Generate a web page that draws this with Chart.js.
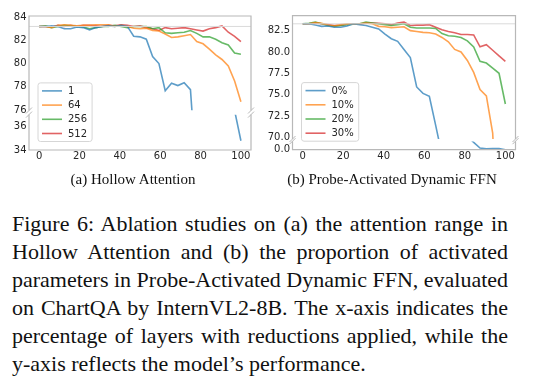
<!DOCTYPE html>
<html>
<head>
<meta charset="utf-8">
<script src="https://cdn.jsdelivr.net/npm/chart.js@4.4.0/dist/chart.umd.min.js"></script>
<style>
  html, body { margin: 0; padding: 0; background: #fff; }
  #page { position: relative; width: 535px; height: 388px; overflow: hidden; background: #fff; }
  canvas { position: absolute; top: 0; }
  .sub { position: absolute; top: 170px; width: 220px; text-align: center; white-space: nowrap;
         font-family: "Liberation Serif", serif; font-size: 15px; line-height: 18px; color: #111; }
  .cap { position: absolute; left: 12px; top: 210px; width: 496px; color: #111;
         font-family: "Liberation Serif", serif; font-size: 22px; }
  .cap div { height: 28px; line-height: 28px; white-space: nowrap; text-align: justify; text-align-last: justify; }
  .cap div.last { text-align-last: left; }
</style>
</head>
<body>
<div id="page">
  <canvas id="chartA" width="267" height="172" style="left:0"></canvas>
  <canvas id="chartB" width="268" height="172" style="left:267px"></canvas>
  <div class="sub" style="left:23px">(a) Hollow Attention</div>
  <div class="sub" style="left:282px">(b) Probe-Activated Dynamic FFN</div>
  <div class="cap">
    <div>Figure 6: Ablation studies on (a) the attention range in</div>
    <div>Hollow Attention and (b) the proportion of activated</div>
    <div>parameters in Probe-Activated Dynamic FFN, evaluated</div>
    <div>on ChartQA by InternVL2-8B. The x-axis indicates the</div>
    <div>percentage of layers with reductions applied, while the</div>
    <div class="last">y-axis reflects the model’s performance.</div>
  </div>
</div>
<script>
// Percentage of layers with reductions applied (32 layers)
var layers = [0, 3.125, 6.25, 9.375, 12.5, 15.625, 18.75, 21.875, 25, 28.125, 31.25, 34.375, 37.5, 40.625, 43.75, 46.875,
              50, 53.125, 56.25, 59.375, 62.5, 65.625, 68.75, 71.875, 75, 78.125, 81.25, 84.375, 87.5, 90.625, 93.75, 96.875, 100];
var xTicks = [0, 20, 40, 60, 80, 100];
var xMin = -5;
var xMax = 105;

// (a) Hollow Attention, attention range
var hollowLabels = ['1', '64', '256', '512'];
var hollow1 = [83.2, 83.2, 83.25, 83.2, 83.0, 83.0, 83.15, 83.1, 82.9, 83.1, 83.2, 83.25, 83.2, 83.3, 83.2, 82.35,
               82.3, 82.1, 80.6, 80.0, 77.65, 78.3, 78.1, 78.35, 77.75, 70, 62, 55, 48, 43, 40, 37.4, 34.8];
var hollow64 = [83.2, 83.2, 83.1, 83.3, 83.35, 83.3, 83.25, 83.3, 83.3, 83.35, 83.35, 83.35, 83.2, 83.3, 83.2, 83.05,
                83.0, 83.05, 82.85, 82.8, 82.55, 82.25, 82.3, 82.4, 82.5, 81.9, 81.7, 81.25, 80.75, 80.35, 79.8, 78.5, 76.7];
var hollow256 = [83.2, 83.25, 83.1, 83.2, 83.3, 83.25, 83.2, 83.15, 83.0, 83.1, 83.2, 83.2, 83.3, 83.2, 83.1, 83.2,
                 83.2, 83.2, 83.0, 83.1, 82.65, 82.6, 82.65, 82.7, 82.85, 82.6, 82.3, 82.3, 82.1, 81.8, 81.6, 80.9, 80.8];
var hollow512 = [83.2, 83.2, 83.15, 83.3, 83.2, 83.3, 83.2, 83.3, 83.3, 83.25, 83.2, 83.3, 83.25, 83.35, 83.3, 83.2,
                 83.25, 83.1, 83.0, 82.85, 83.1, 83.0, 83.05, 83.1, 83.0, 82.9, 82.8, 83.0, 83.1, 83.25, 82.7, 82.35, 81.9];
var hollowBase = 83.2;
var hollowTopTicks = [76, 78, 80, 82, 84];
var hollowBotTicks = [34, 36];

// (b) Probe-Activated Dynamic FFN, proportion of activated parameters
var ffnLabels = ['0%', '10%', '20%', '30%'];
var ffn0 = [83.3, 83.3, 83.15, 83.0, 83.05, 82.9, 82.9, 83.05, 83.3, 83.2, 83.1, 82.9, 82.7, 82.1, 81.55, 81.25,
            80.3, 79.35, 75.9, 75.15, 74.8, 71.4, 67.9, 55, 40, 20, 1.6, 0.85, 0.2, 0.1, 0.15, 0.15, 0.0];
var ffn10 = [83.3, 83.3, 83.45, 83.35, 83.15, 83.05, 83.2, 83.3, 83.25, 83.3, 83.4, 83.3, 83.0, 82.95, 82.85, 82.9,
             82.95, 82.5, 82.4, 82.3, 82.25, 82.1, 81.7, 81.2, 80.3, 80.0, 79.0, 77.6, 75.6, 74.85, 70.5, 55, 40];
var ffn20 = [83.3, 83.35, 83.5, 83.3, 83.1, 83.0, 83.1, 83.2, 83.25, 83.3, 83.5, 83.4, 83.3, 83.2, 83.1, 83.2,
             83.3, 82.9, 82.8, 82.8, 82.8, 82.75, 82.15, 81.9, 81.85, 81.7, 81.3, 80.6, 78.9, 78.7, 78.1, 77.5, 73.9];
var ffn30 = [83.3, 83.3, 83.4, 83.3, 83.2, 83.1, 83.15, 83.25, 83.3, 83.25, 83.4, 83.4, 83.35, 83.3, 83.2, 83.4,
             83.5, 83.1, 83.15, 83.15, 83.2, 82.9, 82.6, 82.4, 82.25, 82.05, 82.05, 82.0, 80.6, 80.85, 80.2, 79.55, 78.9];
var ffnBase = 83.3;
var ffnTopTicks = [70, 72.5, 75, 77.5, 80, 82.5];
var ffnBotTicks = [0];

var lineColors = ['rgba(31,119,180,0.72)', 'rgba(255,127,14,0.72)', 'rgba(44,160,44,0.72)', 'rgba(214,39,40,0.72)'];
var tickColor = '#262626';
var spineColor = '#b8b8b8';
var tickFont = { family: 'DejaVu Sans', size: 10 };

// Clip every line to the panel of its own y axis (broken axis)
var panelClip = {
    id: 'panelClip',
    beforeDatasetDraw: function (chart, args) {
        var ys = args.meta.yScale, a = chart.chartArea, ctx = chart.ctx;
        ctx.save();
        ctx.beginPath();
        ctx.rect(a.left, ys.top, a.right - a.left, ys.bottom - ys.top);
        ctx.clip();
    },
    afterDatasetDraw: function (chart) {
        chart.ctx.restore();
    }
};

// Grey frame around both panels plus the // break marks
var panelFrame = {
    id: 'panelFrame',
    afterDatasetsDraw: function (chart) {
        var ctx = chart.ctx, a = chart.chartArea;
        var t = chart.scales.yTop, b = chart.scales.yBot;
        ctx.save();
        ctx.strokeStyle = spineColor;
        ctx.lineWidth = 1.2;
        ctx.beginPath();
        ctx.moveTo(a.left, t.bottom); ctx.lineTo(a.left, t.top); ctx.lineTo(a.right, t.top); ctx.lineTo(a.right, t.bottom);
        ctx.moveTo(a.left, b.top); ctx.lineTo(a.left, b.bottom); ctx.lineTo(a.right, b.bottom); ctx.lineTo(a.right, b.top);
        ctx.stroke();
        ctx.lineWidth = 1;
        ctx.beginPath();
        [a.left, a.right].forEach(function (x) {
            [t.bottom, b.top].forEach(function (y) {
                ctx.moveTo(x - 3, y + 3);
                ctx.lineTo(x + 3, y - 3);
            });
        });
        ctx.stroke();
        ctx.restore();
    }
};

// Framed legend in the lower left corner of the plot
var boxLegend = {
    id: 'boxLegend',
    afterDraw: function (chart) {
        var ctx = chart.ctx, a = chart.chartArea;
        var items = chart.data.datasets.filter(function (d) { return d.inLegend; });
        ctx.save();
        ctx.font = '10px "DejaVu Sans"';
        var textW = Math.max.apply(null, items.map(function (d) { return ctx.measureText(d.label).width; }));
        var rowH = 14.2;
        var w = 30 + textW + 5;
        var h = rowH * (items.length - 1) + 16;
        var left = a.left + 9;
        var top = a.bottom - 8.5 - h;
        ctx.beginPath();
        if (ctx.roundRect) ctx.roundRect(left, top, w, h, 2.5); else ctx.rect(left, top, w, h);
        ctx.fillStyle = 'rgba(255,255,255,0.85)';
        ctx.fill();
        ctx.strokeStyle = '#d6d6d6';
        ctx.lineWidth = 1;
        ctx.stroke();
        items.forEach(function (d, i) {
            var y = top + 8 + i * rowH;
            ctx.beginPath();
            ctx.moveTo(left + 4, y);
            ctx.lineTo(left + 24, y);
            ctx.strokeStyle = d.borderColor;
            ctx.lineWidth = 1.6;
            ctx.stroke();
            ctx.fillStyle = tickColor;
            ctx.textBaseline = 'middle';
            ctx.fillText(d.label, left + 30, y + 0.5);
        });
        ctx.restore();
    }
};

function points(values) {
    return layers.map(function (x, i) { return { x: x, y: values[i] }; });
}

function fixedTicks(list) {
    return function (scale) {
        scale.ticks = list.map(function (v) { return { value: v }; });
    };
}

function buildChart(id, opt) {
    var datasets = [];
    // reference line at the unreduced score
    datasets.push({
        data: [{ x: xMin, y: opt.base }, { x: xMax, y: opt.base }],
        yAxisID: 'yTop', borderColor: '#dadada', borderWidth: 1, pointRadius: 0
    });
    opt.series.forEach(function (vals, i) {
        ['yTop', 'yBot'].forEach(function (axis) {
            datasets.push({
                label: opt.labels[i],
                data: points(vals),
                yAxisID: axis,
                borderColor: lineColors[i],
                borderWidth: 1.6,
                pointRadius: 0,
                inLegend: axis === 'yTop'
            });
        });
    });

    function yAxis(weight, stackWeight, range, ticks) {
        var axis = {
            type: 'linear',
            position: 'left',
            stack: 'panels',
            weight: weight,
            stackWeight: stackWeight,
            grid: { display: false, drawTicks: false },
            border: { display: false },
            ticks: {
                display: !!ticks,
                padding: 2.5,
                color: tickColor,
                font: tickFont,
                autoSkip: false,
                callback: opt.format
            },
            afterFit: function (scale) { scale.width = opt.yWidth; }
        };
        if (range) { axis.min = range[0]; axis.max = range[1]; }
        if (ticks) axis.afterBuildTicks = fixedTicks(ticks);
        return axis;
    }

    return new Chart(document.getElementById(id), {
        type: 'line',
        data: { datasets: datasets },
        options: {
            responsive: false,
            animation: false,
            devicePixelRatio: 1,
            layout: { padding: { left: 0, top: opt.padTop, right: opt.padRight, bottom: 0 } },
            plugins: { legend: { display: false }, tooltip: { enabled: false } },
            scales: {
                x: {
                    type: 'linear',
                    min: xMin,
                    max: xMax,
                    grid: { display: false, drawTicks: false },
                    border: { display: false },
                    ticks: { padding: 0.5, color: tickColor, font: tickFont, maxRotation: 0, autoSkip: false },
                    afterBuildTicks: fixedTicks(xTicks),
                    afterFit: function (scale) { scale.height = opt.xHeight; }
                },
                yTop: yAxis(3, opt.weights[0], opt.topRange, opt.topTicks),
                yGap: yAxis(2, opt.weights[1], null, null),
                yBot: yAxis(1, opt.weights[2], opt.botRange, opt.botTicks)
            }
        },
        plugins: [panelClip, panelFrame, boxLegend]
    });
}

buildChart('chartA', {
    labels: hollowLabels,
    series: [hollow1, hollow64, hollow256, hollow512],
    base: hollowBase,
    topRange: [75.95, 84.1],
    botRange: [34, 37.05],
    topTicks: hollowTopTicks,
    botTicks: hollowBotTicks,
    weights: [94.5, 4.1, 35.4],
    format: function (v) { return String(v); },
    yWidth: 29,
    xHeight: 22,
    padTop: 16,
    padRight: 16
});

buildChart('chartB', {
    labels: ffnLabels,
    series: [ffn0, ffn10, ffn20, ffn30],
    base: ffnBase,
    topRange: [69.8, 84.25],
    botRange: [0, 1.0],
    topTicks: ffnTopTicks,
    botTicks: ffnBotTicks,
    weights: [123.3, 2.2, 8.5],
    format: function (v) { return v.toFixed(1); },
    yWidth: 25.5,
    xHeight: 22.3,
    padTop: 15.7,
    padRight: 19.5
});
</script>
</body>
</html>
